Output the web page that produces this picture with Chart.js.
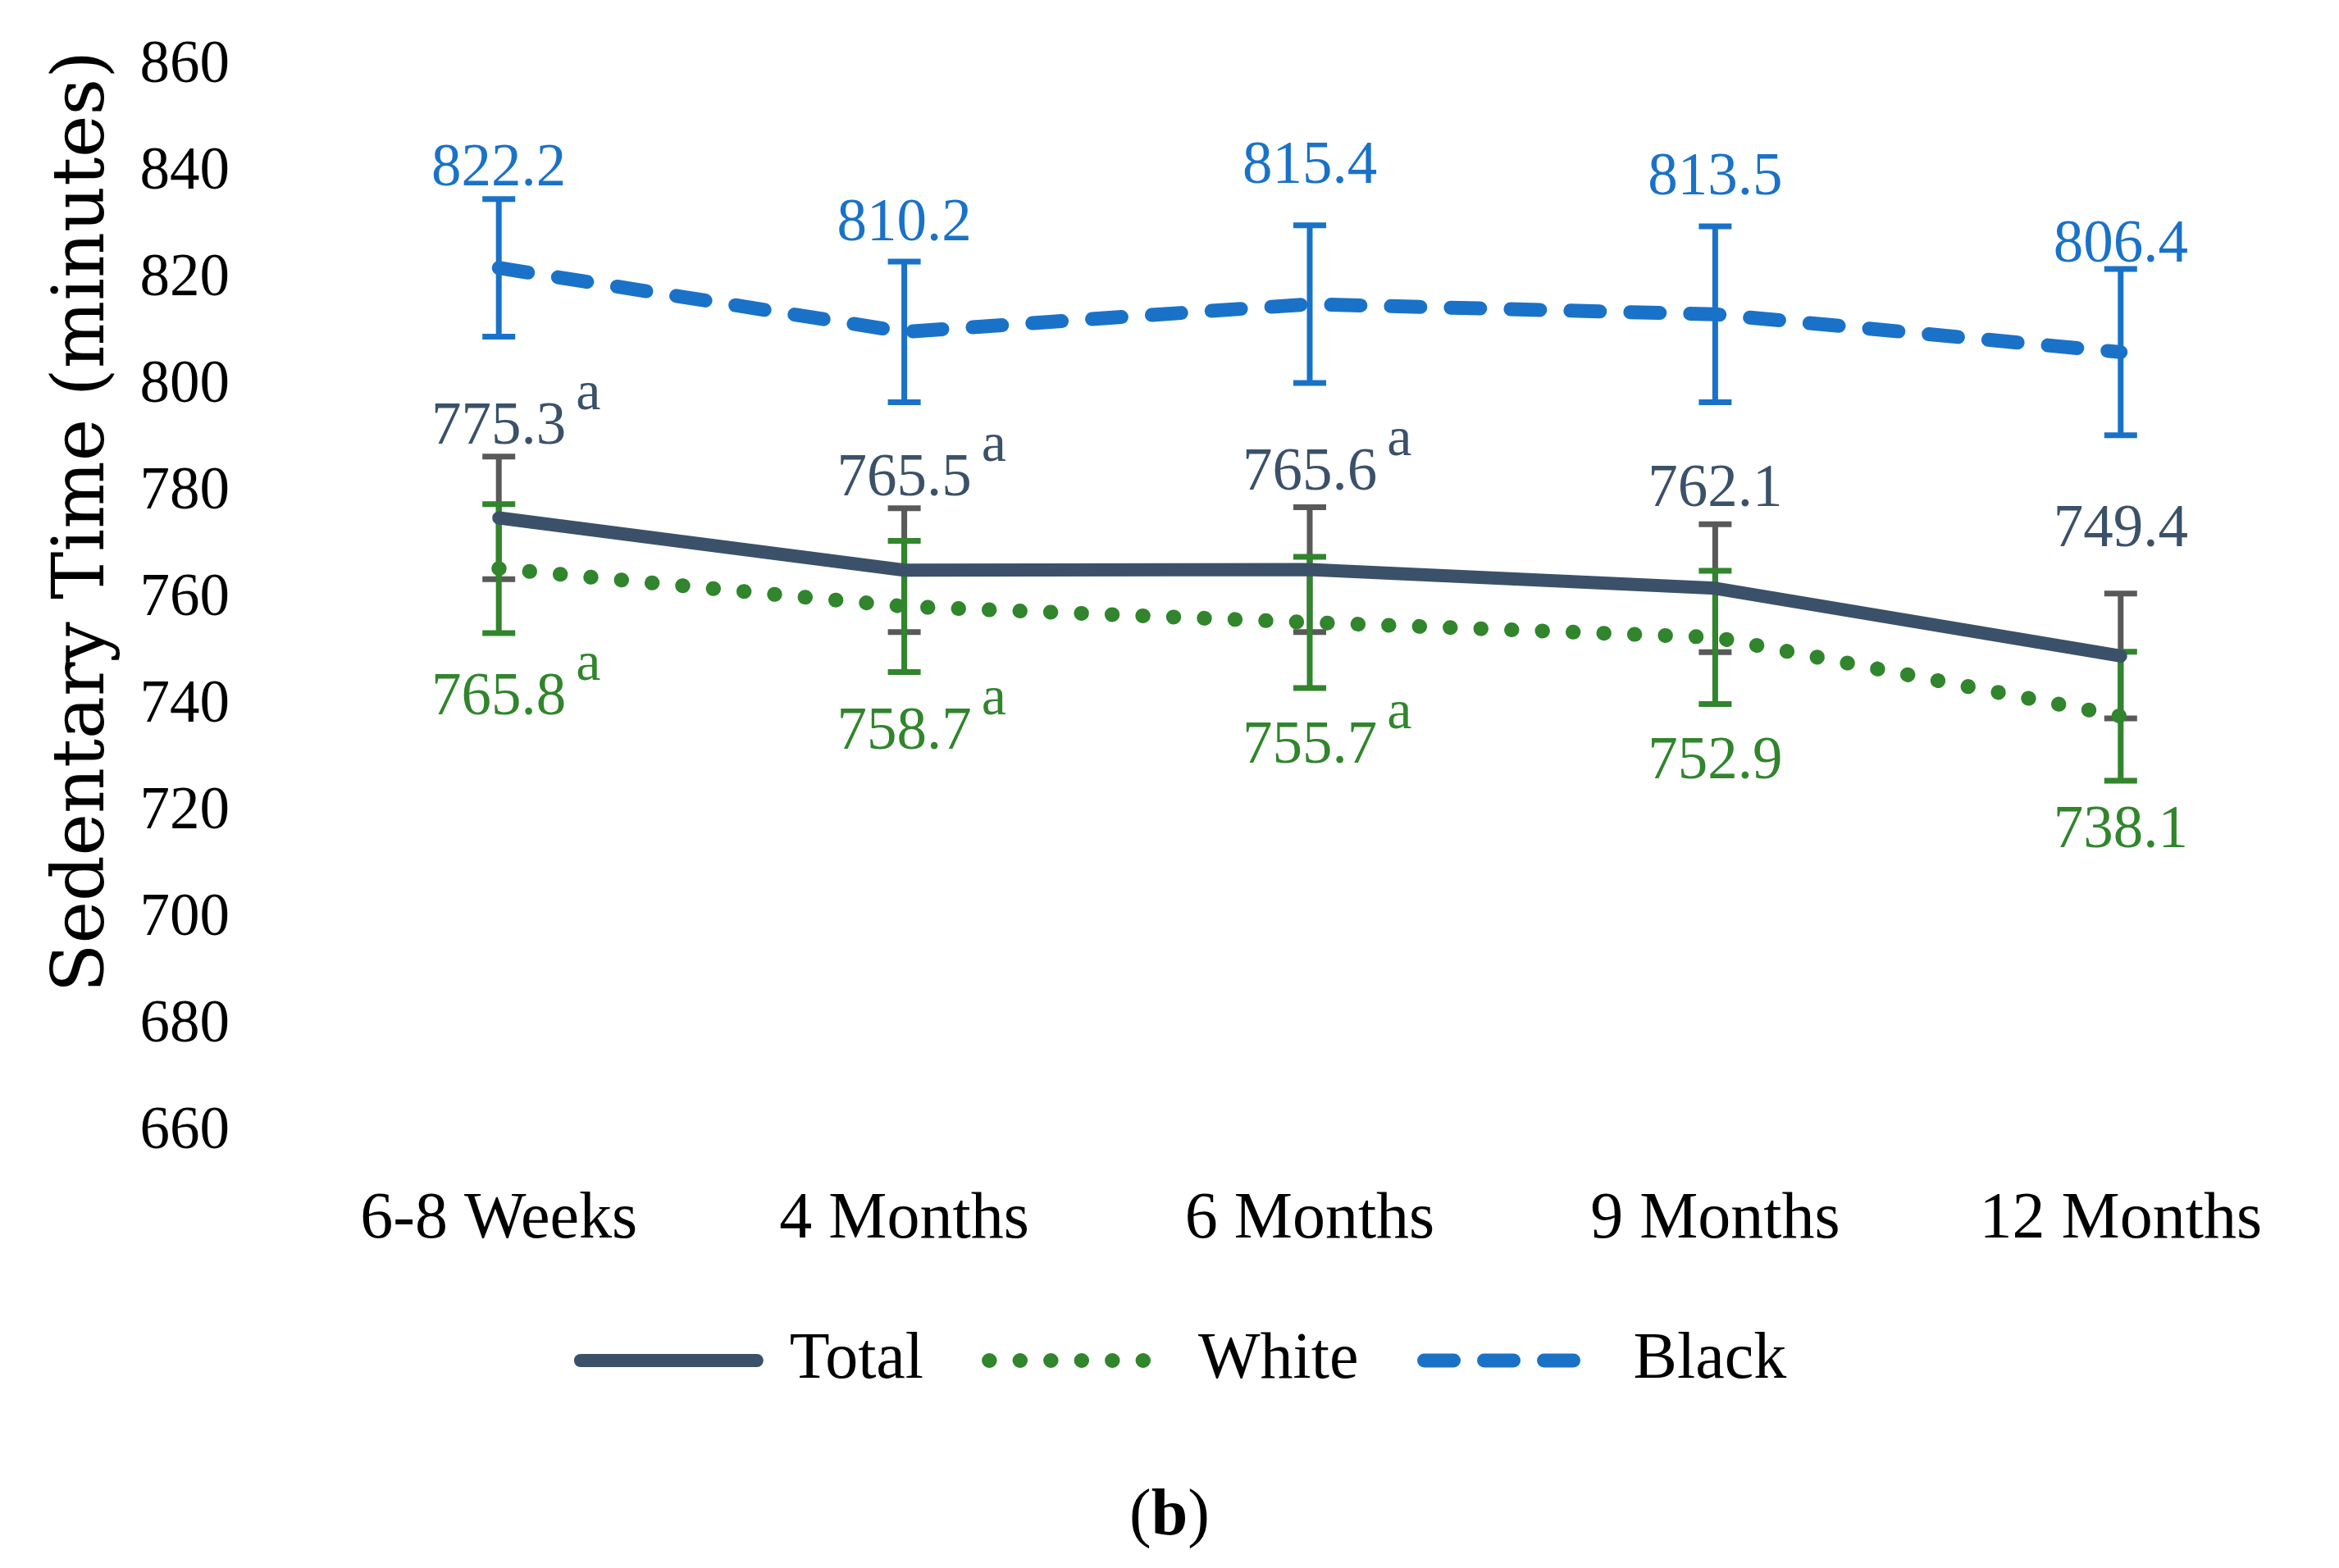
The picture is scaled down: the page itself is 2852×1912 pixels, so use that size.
<!DOCTYPE html>
<html lang="en">
<head>
<meta charset="UTF-8">
<title>Sedentary Time</title>
<script src="https://cdn.jsdelivr.net/npm/chart.js"></script>
<style>
  body { margin: 0; background: #fff; }
  #wrap { position: relative; width: 2852px; height: 1912px; }
  #caption { position: absolute; left: 0; top: 1804px; width: 2852px; text-align: center;
             font: 80px/80px "Liberation Serif", serif; color: #000; }
</style>
</head>
<body>
<div id="wrap">
  <canvas id="sedChart"></canvas>
  <div id="caption">(<b>b</b>)</div>
</div>
<script>
// values
var timepoints = ['6-8 Weeks', '4 Months', '6 Months', '9 Months', '12 Months'];
var totalMeans = [775.3, 765.5, 765.6, 762.1, 749.4];
var whiteMeans = [765.8, 758.7, 755.7, 752.9, 738.1];
var blackMeans = [822.2, 810.2, 815.4, 813.5, 806.4];
var totalErr = [11.5, 11.6, 11.7, 12.0, 11.7];
var whiteErr = [12.1, 12.3, 12.3, 12.5, 12.1];
var blackErr = [12.9, 13.2, 14.8, 16.5, 15.6];
var totalMarks = ['a', 'a', 'a', '', ''];
var whiteMarks = ['a', 'a', 'a', '', ''];
var blackMarks = ['', '', '', '', ''];
var yMin = 660, yMax = 860, yStep = 20;

var SERIF = '"Liberation Serif", "Times New Roman", serif';

// error bars under the lines
var errorBars = {
    id: 'errorBars',
    beforeDatasetsDraw: function (chart) {
        var ctx = chart.ctx, y = chart.scales.y;
        chart.data.datasets.forEach(function (ds, di) {
            var meta = chart.getDatasetMeta(di);
            ctx.save();
            ctx.strokeStyle = ds.errColor;
            ctx.lineWidth = 7;
            ctx.setLineDash([]);
            meta.data.forEach(function (pt, i) {
                var top = y.getPixelForValue(ds.data[i] + ds.errors[i]);
                var bot = y.getPixelForValue(ds.data[i] - ds.errors[i]);
                ctx.beginPath();
                ctx.moveTo(pt.x, top); ctx.lineTo(pt.x, bot);
                ctx.moveTo(pt.x - 20, top); ctx.lineTo(pt.x + 20, top);
                ctx.moveTo(pt.x - 20, bot); ctx.lineTo(pt.x + 20, bot);
                ctx.stroke();
            });
            ctx.restore();
        });
    }
};

// value labels with the superscript marks
var valueLabels = {
    id: 'valueLabels',
    afterDatasetsDraw: function (chart) {
        var ctx = chart.ctx, y = chart.scales.y;
        chart.data.datasets.forEach(function (ds, di) {
            var meta = chart.getDatasetMeta(di);
            meta.data.forEach(function (pt, i) {
                var txt = ds.data[i].toFixed(1);
                var base;
                if (ds.labelSide === 'below') {
                    base = y.getPixelForValue(ds.data[i] - ds.errors[i]) + ds.labelGap;
                } else {
                    base = y.getPixelForValue(ds.data[i] + ds.errors[i]) - ds.labelGap;
                }
                base += ds.labelNudge[i];   // hand placement in the original
                ctx.save();
                ctx.fillStyle = ds.labelColor;
                ctx.textBaseline = 'alphabetic';
                ctx.textAlign = 'center';
                ctx.font = '73px ' + SERIF;
                ctx.fillText(txt, pt.x, base);
                if (ds.marks[i]) {
                    var w = ctx.measureText(txt).width;
                    ctx.font = '68px ' + SERIF;
                    ctx.textAlign = 'left';
                    ctx.fillText(ds.marks[i], pt.x + w / 2 + 12, base - 42);
                }
                ctx.restore();
            });
        });
    }
};

// y axis title (sits a bit above the axis middle in the original)
var yTitle = {
    id: 'yTitle',
    afterDraw: function (chart) {
        var ctx = chart.ctx;
        ctx.save();
        ctx.translate(103, 636);
        ctx.rotate(-Math.PI / 2);
        ctx.font = '87px "DejaVu Serif", serif';
        ctx.fillStyle = '#000';
        ctx.textAlign = 'center';
        ctx.textBaseline = 'middle';
        ctx.fillText('Sedentary Time (minutes)', 0, 0);
        ctx.restore();
    }
};

var ctx = document.getElementById('sedChart').getContext('2d');
var sedChart = new Chart(ctx, {
    type: 'line',
    data: {
        labels: timepoints,
        datasets: [{
            label: 'Total',
            data: totalMeans,
            errors: totalErr,
            marks: totalMarks,
            borderColor: '#3B5169',
            backgroundColor: '#3B5169',
            borderWidth: 16,
            borderCapStyle: 'round',
            borderJoinStyle: 'round',
            errColor: '#595959',
            labelColor: '#3B5169',
            labelSide: 'above',
            labelGap: 16,
            labelNudge: [0, 0, -6, -6, -42]
        }, {
            label: 'White',
            data: whiteMeans,
            errors: whiteErr,
            marks: whiteMarks,
            borderColor: '#31852C',
            backgroundColor: '#31852C',
            borderWidth: 18,
            borderDash: [0.5, 37],
            borderCapStyle: 'round',
            borderJoinStyle: 'round',
            errColor: '#31852C',
            labelColor: '#31852C',
            labelSide: 'below',
            labelGap: 99,
            labelNudge: [0, -5, -8, -8, -18]
        }, {
            label: 'Black',
            data: blackMeans,
            errors: blackErr,
            marks: blackMarks,
            borderColor: '#1A72C8',
            backgroundColor: '#1A72C8',
            borderWidth: 17,
            borderDash: [36, 37],
            borderCapStyle: 'round',
            borderJoinStyle: 'round',
            errColor: '#1A72C8',
            labelColor: '#1A72C8',
            labelSide: 'above',
            labelGap: 26,
            labelNudge: [9, 0, -26, -13, 17]
        }]
    },
    options: {
        responsive: true,
        maintainAspectRatio: false,
        animation: false,
        layout: { padding: { top: 81, left: 53, right: 19, bottom: 203 } },
        elements: { point: { radius: 0, hoverRadius: 0 }, line: { tension: 0 } },
        scales: {
            x: {
                offset: true,
                grid: { display: false, offset: true },
                border: { display: false },
                ticks: { font: { family: SERIF, size: 80 }, color: '#000', padding: 51, maxRotation: 0 },
                afterFit: function (scale) { scale.height = 158; }
            },
            y: {
                min: yMin,
                max: yMax,
                grid: { display: false },
                border: { display: false },
                ticks: { stepSize: yStep, font: { family: SERIF, size: 73 }, color: '#000', padding: 73 },
                afterFit: function (scale) {
                    scale.width = 308;
                    scale.paddingTop = 0;
                    scale.paddingBottom = 0;
                }
            }
        },
        plugins: {
            tooltip: { enabled: false },
            legend: {
                position: 'bottom',
                labels: {
                    usePointStyle: true,
                    pointStyle: 'line',
                    pointStyleWidth: 215,
                    padding: 80,
                    color: '#000',
                    font: { family: SERIF, size: 80 },
                    generateLabels: function (chart) {
                        return chart.data.datasets.map(function (ds, i) {
                            return {
                                text: ds.label,
                                strokeStyle: ds.borderColor,
                                fillStyle: ds.borderColor,
                                lineWidth: ds.borderWidth,
                                lineDash: ds.borderDash || [],
                                lineCap: ds.borderCapStyle,
                                pointStyle: 'line',
                                fontColor: '#000',
                                hidden: false,
                                datasetIndex: i
                            };
                        });
                    }
                }
            }
        }
    },
    plugins: [errorBars, valueLabels, yTitle]
});
</script>
</body>
</html>
